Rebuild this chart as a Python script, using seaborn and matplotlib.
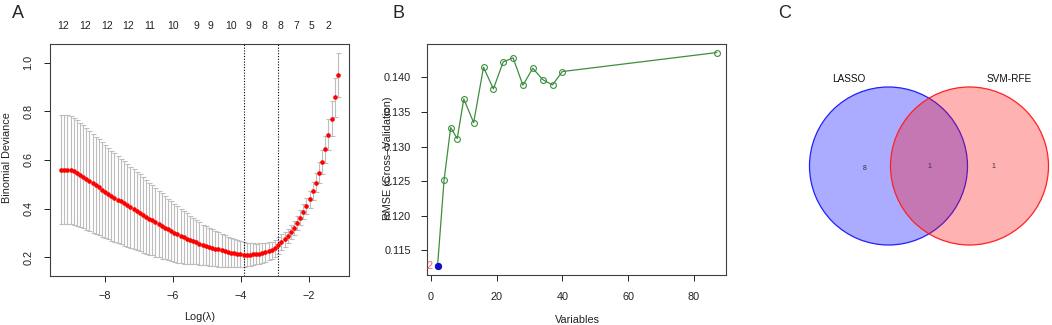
import numpy as np
import pandas as pd
import matplotlib
matplotlib.use("Agg")
import matplotlib.pyplot as plt
import seaborn as sns
from matplotlib.patches import Circle

# ---------------- data ----------------
# Panel A: LASSO cross-validation curve
log_lambda = [-9.28, -9.19, -9.10, -9.00, -8.91, -8.82, -8.73, -8.63, -8.54, -8.45,
              -8.355, -8.26, -8.17, -8.08, -7.985, -7.89, -7.80, -7.71, -7.615, -7.52,
              -7.43, -7.34, -7.245, -7.15, -7.06, -6.97, -6.875, -6.78, -6.69, -6.60,
              -6.505, -6.41, -6.32, -6.23, -6.135, -6.04, -5.95, -5.86, -5.765, -5.67,
              -5.58, -5.49, -5.395, -5.30, -5.21, -5.12, -5.025, -4.93, -4.84, -4.75,
              -4.655, -4.56, -4.47, -4.38, -4.285, -4.19, -4.10, -4.01, -3.915, -3.82,
              -3.73, -3.64, -3.545, -3.45, -3.36, -3.27, -3.175, -3.08, -2.99, -2.90,
              -2.805, -2.71, -2.62, -2.53, -2.435, -2.34, -2.25, -2.16, -2.065, -1.97,
              -1.88, -1.79, -1.695, -1.60, -1.51, -1.42, -1.325, -1.23, -1.14]
cv_mean = [0.560, 0.560, 0.560, 0.558, 0.553, 0.546, 0.538, 0.530, 0.521, 0.512,
           0.504, 0.495, 0.487, 0.478, 0.469, 0.461, 0.453, 0.445, 0.437, 0.429,
           0.421, 0.413, 0.405, 0.397, 0.390, 0.382, 0.374, 0.366, 0.359, 0.351,
           0.343, 0.336, 0.328, 0.321, 0.314, 0.307, 0.300, 0.294, 0.288, 0.282,
           0.276, 0.271, 0.266, 0.261, 0.256, 0.251, 0.247, 0.243, 0.239, 0.235,
           0.232, 0.228, 0.225, 0.222, 0.219, 0.216, 0.214, 0.212, 0.211, 0.211,
           0.211, 0.212, 0.213, 0.215, 0.217, 0.220, 0.224, 0.228, 0.237, 0.249,
           0.263, 0.274, 0.287, 0.303, 0.320, 0.342, 0.363, 0.386, 0.411, 0.439,
           0.472, 0.506, 0.548, 0.593, 0.644, 0.704, 0.770, 0.857, 0.949]
cv_se = [0.224, 0.224, 0.224, 0.223, 0.221, 0.218, 0.215, 0.212, 0.209, 0.206,
         0.203, 0.200, 0.197, 0.194, 0.191, 0.188, 0.185, 0.182, 0.179, 0.176,
         0.173, 0.170, 0.167, 0.164, 0.161, 0.158, 0.155, 0.151, 0.148, 0.144,
         0.141, 0.137, 0.134, 0.130, 0.127, 0.123, 0.120, 0.116, 0.112, 0.108,
         0.104, 0.099, 0.095, 0.091, 0.087, 0.083, 0.081, 0.078, 0.076, 0.073,
         0.071, 0.068, 0.066, 0.063, 0.061, 0.058, 0.056, 0.053, 0.051, 0.049,
         0.047, 0.045, 0.043, 0.042, 0.040, 0.039, 0.037, 0.036, 0.035, 0.034,
         0.032, 0.031, 0.029, 0.028, 0.028, 0.029, 0.030, 0.031, 0.033, 0.035,
         0.037, 0.040, 0.044, 0.049, 0.055, 0.062, 0.070, 0.080, 0.092]
top_pos = [-9.23, -8.58, -7.94, -7.31, -6.66, -5.98, -5.31, -4.88, -4.29, -3.76,
           -3.29, -2.83, -2.37, -1.91, -1.42]
top_nonzero = [12, 12, 12, 12, 11, 10, 9, 9, 10, 9, 8, 8, 7, 5, 2]

# Panel B: SVM-RFE
rfe_vars = [2, 4, 6, 8, 10, 13, 16, 19, 22, 25, 28, 31, 34, 37, 40, 87]
rfe_rmse = [0.11269, 0.12516, 0.13273, 0.13114, 0.13687, 0.13345, 0.14144, 0.13831,
            0.14222, 0.14279, 0.13884, 0.14130, 0.13966, 0.13889, 0.14082, 0.14356]

# Panel C: Venn
venn_names = ["LASSO", "SVM-RFE"]
venn_counts = [8, 1, 1]  # LASSO only, both, SVM-RFE only

# ---------------- style ----------------
sns.set_theme(style="white")
plt.rcParams['font.family'] = ['Liberation Sans', 'DejaVu Sans']
plt.rcParams['axes.unicode_minus'] = True

W, H = 1052, 325
fig = plt.figure(figsize=(W / 100, H / 100), dpi=100)


def px_axes(l, t, r, b):
    return fig.add_axes([l / W, 1 - b / H, (r - l) / W, (b - t) / H])


def rlim(lo, hi, f=0.04):
    d = (hi - lo) * f
    return lo - d, hi + d


spine_col = "#404040"
TS = 7.8

# ---------------- Panel A ----------------
axA = px_axes(50, 44, 349, 276)
dfA = pd.DataFrame({"loglam": log_lambda, "mean": cv_mean, "se": cv_se})
axA.errorbar(dfA["loglam"], dfA["mean"], yerr=dfA["se"], fmt="none",
             ecolor="#BDBDBD", elinewidth=0.8, capsize=1.8, capthick=0.8, zorder=1)
sns.scatterplot(data=dfA, x="loglam", y="mean", ax=axA, color="#FF0000",
                s=11, linewidth=0, zorder=3)
imin = int(np.argmin(dfA["mean"].values))
lam_min = dfA["loglam"][imin]
thr = dfA["mean"][imin] + dfA["se"][imin]
lam_1se = dfA.loc[dfA["mean"] <= thr, "loglam"].max()
for v in (lam_min, lam_1se):
    axA.axvline(v, color="black", ls=(0, (1, 1.5)), lw=0.8, zorder=2)
axA.set_xlim(*rlim(min(log_lambda), max(log_lambda)))
lo = (dfA["mean"] - dfA["se"]).min()
hi = (dfA["mean"] + dfA["se"]).max()
axA.set_ylim(*rlim(lo, hi))
axA.set_xticks([-8, -6, -4, -2])
axA.set_yticks([0.2, 0.4, 0.6, 0.8, 1.0])
axA.set_yticklabels(["0.2", "0.4", "0.6", "0.8", "1.0"], rotation=90, va="center")
axA.tick_params(axis="x", direction="out", length=4, width=0.7, pad=7,
                labelsize=TS, colors="#222222", bottom=True)
axA.tick_params(axis="y", direction="out", length=4, width=0.7, pad=8,
                labelsize=TS, colors="#222222", left=True)
axA.set_xlabel("")
axA.set_ylabel("")
for s in axA.spines.values():
    s.set_color(spine_col)
    s.set_linewidth(0.8)
for p, n in zip(top_pos, top_nonzero):
    axA.text(p, 1.079, str(n), transform=axA.get_xaxis_transform(),
             ha="center", va="center", fontsize=7.5, color="#222222")
fig.text(200 / W, 1 - 317 / H, "Log(λ)", ha="center", va="center", fontsize=TS, color="#222222")
fig.text(7 / W, 1 - 158 / H, "Binomial Deviance", ha="center", va="center",
         rotation=90, fontsize=TS, color="#222222")

# ---------------- Panel B ----------------
green = "#3E8E3E"
axB = px_axes(427, 44, 726, 275)
dfB = pd.DataFrame({"Variables": rfe_vars, "RMSE": rfe_rmse})
sns.lineplot(data=dfB, x="Variables", y="RMSE", ax=axB, color=green, lw=0.9,
             marker="o", markersize=4.2, mfc="none", markeredgecolor=green,
             markeredgewidth=0.8)
best = dfB.loc[dfB["RMSE"].idxmin()]
axB.plot([best["Variables"]], [best["RMSE"]], "o", color="#1010CC", ms=4.2, zorder=4)
axB.annotate(f"{int(best['Variables'])}", (best["Variables"], best["RMSE"]),
             xytext=(-3.5, 0), textcoords="offset points", ha="right", va="center",
             fontsize=TS, color="#F0607A")
axB.set_xlim(-1.2, 89.8)
axB.set_ylim(*rlim(min(rfe_rmse), max(rfe_rmse)))
axB.set_xticks([0, 20, 40, 60, 80])
axB.set_yticks([0.115, 0.120, 0.125, 0.130, 0.135, 0.140])
axB.set_yticklabels([f"{v:.3f}" for v in [0.115, 0.120, 0.125, 0.130, 0.135, 0.140]])
axB.tick_params(axis="x", direction="out", length=4.5, width=0.7, pad=8,
                labelsize=TS, colors="#222222", bottom=True)
axB.tick_params(axis="y", direction="out", length=4.5, width=0.7, pad=7,
                labelsize=TS, colors="#222222", left=True)
axB.set_xlabel("")
axB.set_ylabel("")
for s in axB.spines.values():
    s.set_color(spine_col)
    s.set_linewidth(0.8)
fig.text(577 / W, 1 - 320 / H, "Variables", ha="center", va="center", fontsize=TS, color="#222222")
fig.text(388 / W, 1 - 158 / H, "RMSE (Cross\u2013Validation)", ha="center", va="center",
         rotation=90, fontsize=TS, color="#222222")

# ---------------- Panel C ----------------
axC = px_axes(780, 30, 1052, 300)
axC.set_xlim(780, 1052)
axC.set_ylim(300, 30)
axC.axis("off")
c1 = (888.5, 166.0)
c2 = (969.5, 166.0)
r = 79.0
axC.add_patch(Circle(c1, r, facecolor=(0, 0, 1, 0.33), edgecolor="#2020FF", lw=0.9))
axC.add_patch(Circle(c2, r, facecolor=(1, 0, 0, 0.30), edgecolor="#FF2020", lw=0.9))
axC.text(849, 79, venn_names[0], ha="center", va="center", fontsize=7.2, color="#111111")
axC.text(1009, 79, venn_names[1], ha="center", va="center", fontsize=7.2, color="#111111")
axC.text(865, 168, str(venn_counts[0]), ha="center", va="center", fontsize=5, color="#333333")
axC.text(929, 166, str(venn_counts[1]), ha="center", va="center", fontsize=5, color="#333333")
axC.text(993, 167, str(venn_counts[2]), ha="center", va="center", fontsize=5, color="#333333")

# panel letters
fig.text(18 / W, 1 - 13 / H, "A", ha="center", va="center", fontsize=13)
fig.text(398 / W, 1 - 13 / H, "B", ha="center", va="center", fontsize=13)
fig.text(785 / W, 1 - 13 / H, "C", ha="center", va="center", fontsize=13)

fig.savefig("out.png", dpi=100)
